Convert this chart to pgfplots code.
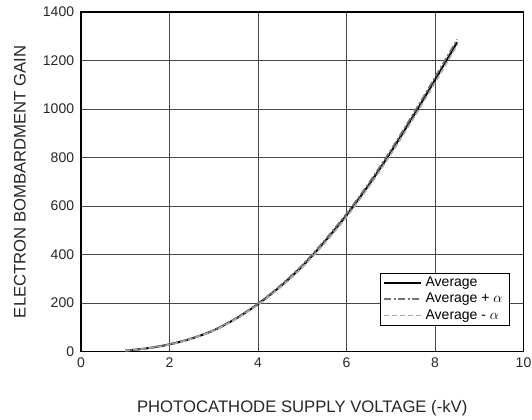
\documentclass[border=0pt]{standalone}
\usepackage{fontspec}
\setmainfont{Liberation Sans}
\usepackage{pgfplots}
\pgfplotsset{compat=1.18}
\begin{document}
\fontsize{14bp}{16bp}\selectfont
\begin{tikzpicture}
\path[use as bounding box] (-81bp,-68bp) rectangle (451.5bp,352bp);
\begin{axis}[
  scale only axis,
  width=443bp, height=340bp,
  xmin=0, xmax=10, ymin=0, ymax=1400,
  xtick={0,2,...,10}, ytick={0,200,...,1400},
  grid=major,
  major grid style={draw=black!72, line width=0.9bp},
  axis line style={draw=black, line width=1.4bp},
  major tick length=0pt,
  /pgf/number format/assume math mode=true,
  /pgf/number format/1000 sep={},
  tick label style={font=\fontsize{14bp}{16bp}\selectfont, text=black!85},
  xticklabel style={yshift=-1bp},
  yticklabel style={xshift=-2bp},
  xlabel={PHOTOCATHODE SUPPLY VOLTAGE (-kV)},
  ylabel={ELECTRON BOMBARDMENT GAIN},
  label style={font=\fontsize{16.7bp}{18bp}\selectfont, text=black!85},
  xlabel style={at={(rel axis cs:0.5,0)}, anchor=center, yshift=-57bp},
  ylabel style={at={(rel axis cs:0,0.5)}, anchor=center, yshift=61bp},
  legend style={at={(rel axis cs:0.968,0.0765)}, anchor=south east,
    draw=black, line width=0.8bp, font=\fontsize{14bp}{16bp}\selectfont,
    row sep=3.5bp, inner xsep=3bp, inner ysep=3.5bp,
    nodes={inner xsep=3.5bp, inner ysep=0.5bp}},
  legend cell align=left,
  legend image code/.code={\draw[#1] (0bp,0bp) -- (37bp,0bp);},
]
\addplot[black, line width=2bp, smooth] coordinates {
(1.0,4) (1.5,14) (2.0,30) (2.5,54) (3.0,88) (3.5,136) (4.0,196) (4.5,268)
(5.0,352) (5.5,452) (6.0,562) (6.5,686) (7.0,822) (7.5,968) (8.0,1120) (8.5,1275)};
\addlegendentry{Average}
\addplot[black!55, line width=1.7bp, dash pattern=on 7bp off 2.5bp on 2bp off 2.5bp, smooth] coordinates {
(1.0,4) (1.5,14) (2.0,31) (2.5,55) (3.0,89) (3.5,138) (4.0,199) (4.5,272)
(5.0,357) (5.5,458) (6.0,569) (6.5,694) (7.0,831) (7.5,978) (8.0,1131) (8.5,1287)};
\addlegendentry{Average + $\alpha$}
\addplot[black!35, line width=1.7bp, dash pattern=on 5bp off 3bp, smooth] coordinates {
(1.0,4) (1.5,14) (2.0,29) (2.5,53) (3.0,87) (3.5,134) (4.0,193) (4.5,264)
(5.0,347) (5.5,446) (6.0,555) (6.5,678) (7.0,813) (7.5,958) (8.0,1109) (8.5,1263)};
\addlegendentry{Average - $\alpha$}
\end{axis}
\end{tikzpicture}
\end{document}
